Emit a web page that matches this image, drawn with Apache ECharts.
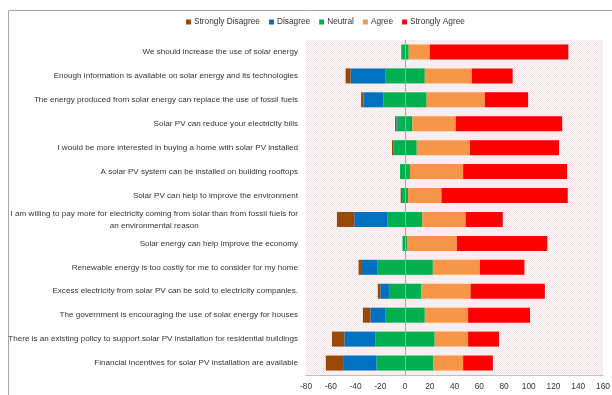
<!DOCTYPE html>
<html>
<head>
<meta charset="utf-8">
<script src="https://cdn.jsdelivr.net/npm/echarts@6/dist/echarts.min.js"></script>
<style>
  html, body { margin: 0; padding: 0; background: #fff; }
  #chart { width: 612px; height: 395px; }
</style>
</head>
<body>
<div id="chart"></div>
<script>
// Survey statements (top to bottom)
const statements = [
  'We should increase the use of solar energy',
  'Enough information is available on solar energy and its technologies',
  'The energy produced from solar energy can replace the use of fossil fuels',
  'Solar PV can reduce your electricity bills',
  'I would be more interested in buying a home with solar PV installed',
  'A solar PV system can be installed on building rooftops',
  'Solar PV can help to improve the environment',
  'I am willing to pay more for electricity coming from solar than from fossil fuels for\nan environmental reason',
  'Solar energy can help improve the economy',
  'Renewable energy is too costly for me to consider for my home',
  'Excess electricity from solar PV can be sold to electricity companies.',
  'The government is encouraging the use of solar energy for houses',
  'There is an existing policy to support solar PV installation for residential buildings',
  'Financial incentives for solar PV installation are available'
];

// Response counts per statement
const stronglyDisagree = [0, 4, 2, 1, 1, 0, 1, 14, 0, 2, 2, 6, 10, 14];
const disagree         = [0, 28, 16, 1, 0, 0, 0, 27, 0, 13, 7, 12, 25, 27];
const neutral          = [6, 32, 35, 12, 19, 8, 5, 28, 4, 45, 26, 32, 48, 46];
const agree            = [17, 38, 47, 35, 43, 43, 27, 35, 40, 38, 40, 35, 27, 24];
const stronglyAgree    = [112, 33, 35, 86, 72, 84, 102, 30, 73, 36, 60, 50, 25, 24];

const xTicks = { min: -80, max: 160, step: 20 };

const colors = {
  sd: '#984807',
  d: '#0070C0',
  n: '#00B050',
  a: '#F79646',
  sa: '#FF0000'
};

// Fine dotted pink fill for the plotting area
const tile = document.createElement('canvas');
tile.width = 2; tile.height = 2;
const tctx = tile.getContext('2d');
tctx.fillStyle = '#fcf8f8';
tctx.fillRect(0, 0, 2, 2);
tctx.fillStyle = '#f3e5e7';
tctx.fillRect(0, 0, 1, 1);
tctx.fillRect(1, 1, 1, 1);

const font = "'Liberation Sans', Arial, sans-serif";
const textColor = '#333333';

// Neutral answers are split evenly either side of zero
const neutralLeft = neutral.map(v => -v / 2);
const neutralRight = neutral.map(v => v / 2);
const negate = arr => arr.map(v => -v);

function bar(name, data, color, extra) {
  return Object.assign({
    name: name,
    type: 'bar',
    stack: 'likert',
    barWidth: 15,
    data: data,
    itemStyle: { color: color },
    emphasis: { disabled: true }
  }, extra || {});
}

const chart = echarts.init(document.getElementById('chart'), null, { renderer: 'canvas' });

chart.setOption({
  animation: false,
  textStyle: { fontFamily: font },
  graphic: [{
    type: 'rect',
    shape: { x: 8.5, y: 10.5, width: 700, height: 500 },
    style: { fill: 'none', stroke: '#a6a6a6', lineWidth: 1 },
    silent: true,
    z: -1
  }],
  legend: {
    data: ['Strongly Disagree', 'Disagree', 'Neutral', 'Agree', 'Strongly Agree'],
    top: 18,
    left: 186,
    padding: 0,
    itemWidth: 5,
    itemHeight: 5,
    itemGap: 9,
    icon: 'rect',
    textStyle: { fontSize: 8.3, color: textColor, fontFamily: font, padding: [0, 0, 0, -2] }
  },
  grid: {
    left: 306,
    right: 9,
    top: 40,
    bottom: 20,
    outerBoundsMode: 'none',
    containLabel: false,
    show: true,
    borderWidth: 0,
    backgroundColor: { image: tile, repeat: 'repeat' }
  },
  xAxis: {
    type: 'value',
    min: xTicks.min,
    max: xTicks.max,
    interval: xTicks.step,
    axisLine: { show: true, onZero: false, lineStyle: { color: '#bfbfbf' } },
    axisTick: { show: false },
    splitLine: { show: false },
    axisLabel: { fontSize: 8.3, color: textColor, margin: 8, fontFamily: font }
  },
  yAxis: {
    type: 'category',
    inverse: true,
    data: statements,
    axisLine: { show: false },
    axisTick: { show: false },
    axisLabel: {
      fontSize: 8.1,
      color: textColor,
      margin: 8,
      lineHeight: 12,
      fontFamily: font,
      formatter: function (value) {
        return value.split('\n').map(s => '{c|' + s + '}').join('\n');
      },
      rich: { c: { align: 'center', fontSize: 8.1, lineHeight: 12, color: textColor, fontFamily: font } }
    }
  },
  series: [
    bar('Neutral', neutralLeft, colors.n, {
      markLine: {
        silent: true,
        symbol: 'none',
        label: { show: false },
        lineStyle: { color: '#a6a6a6', type: 'solid', width: 1 },
        data: [{ xAxis: 0 }],
        z: 10
      }
    }),
    bar('Disagree', negate(disagree), colors.d),
    bar('Strongly Disagree', negate(stronglyDisagree), colors.sd),
    bar('Neutral', neutralRight, colors.n),
    bar('Agree', agree, colors.a),
    bar('Strongly Agree', stronglyAgree, colors.sa)
  ]
});
</script>
</body>
</html>
